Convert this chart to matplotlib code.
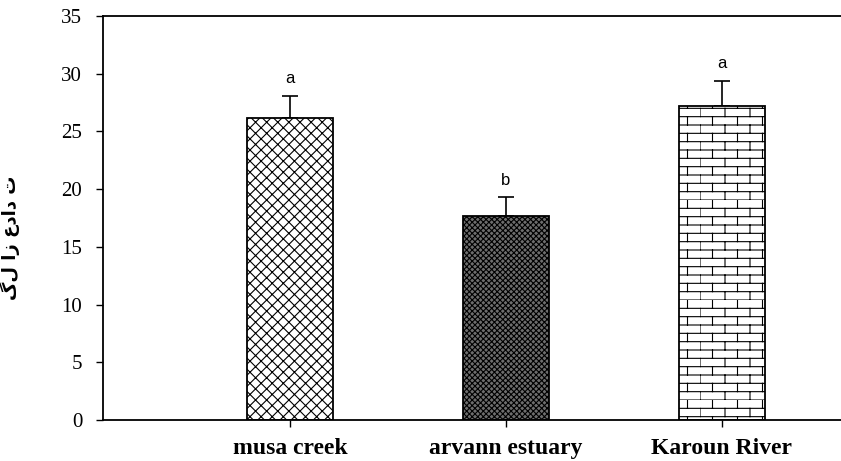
import numpy as np
import matplotlib
matplotlib.use("Agg")
import matplotlib.pyplot as plt
import matplotlib.hatch as mhatch
from matplotlib.path import Path

#################################################

sites = ["musa creek", "arvann estuary", "Karoun River"]
means = [26.2, 17.7, 27.2]
errs = [1.9, 1.6, 2.2]
letters = ["a", "b", "a"]
ylabel = "گل از عداد ت"

#################################################

# brick pattern, not one of the stock hatches
class BrickHatch(mhatch.HatchPatternBase):
  def __init__(self, hatch, density):
    self.rows = int(hatch.count('b') * density)
    self.cols = max(int(self.rows / 2.5), 1)
    if self.rows:
      self.num_vertices = self.rows * 2 + self.rows * self.cols * 2
    else:
      self.num_vertices = 0

  def set_vertices_and_codes(self, vertices, codes):
    n = self.rows
    m = self.cols
    i = 0
    for k in range(n):
      y0 = k / n
      vertices[i] = (0.0, y0)
      vertices[i + 1] = (1.0, y0)
      codes[i] = Path.MOVETO
      codes[i + 1] = Path.LINETO
      i += 2
      for j in range(m):
        x = (j + 0.5 * (k % 2)) / m
        vertices[i] = (x, y0)
        vertices[i + 1] = (x, y0 + 1.0 / n)
        codes[i] = Path.MOVETO
        codes[i + 1] = Path.LINETO
        i += 2

mhatch._hatch_types.append(BrickHatch)
mhatch._validate_hatch_pattern = lambda hatch: None

#################################################

fig = plt.figure(figsize=(8.41, 4.61), dpi=100)
ax = fig.add_axes([103/841, 1 - 420/461, 1 - 103/841, (420 - 16)/461])

x = np.arange(1, len(sites) + 1)
hatches = ['xxx', 'xxxxxx', 'bb']
faces = ['white', '#6e6e6e', 'white']

plt.rcParams['hatch.linewidth'] = 0.8
bars = ax.bar(x, means, width=0.394, color=faces, edgecolor='black',
              linewidth=1.3, zorder=2)
for b, h in zip(bars, hatches):
  b.set_hatch(h)

ax.errorbar(x, means, yerr=[np.zeros(len(errs)), errs], fmt='none',
            ecolor='black', elinewidth=1.2, capsize=5.5, capthick=1.2, zorder=1)

for xi, m, e, t in zip(x, means, errs, letters):
  ax.annotate(t, (xi, m + e), xytext=(0, 7), textcoords='offset points',
              ha='center', va='bottom', fontsize=12, family='Liberation Sans')

ax.set_xlim(0.134, 3.551)
ax.set_ylim(0, 35)
ax.set_yticks(np.arange(0, 36, 5))
ax.set_xticks(x)
ax.set_xticklabels(sites, family='Liberation Serif', fontweight='bold', fontsize=17)
for lab in ax.get_yticklabels():
  lab.set_family('Liberation Serif')
  lab.set_fontsize(15)

ax.tick_params(axis='y', direction='out', length=5, width=1, pad=10)
ax.tick_params(axis='x', direction='out', length=5, width=1, pad=8)
ax.spines['right'].set_visible(False)
for s in ['left', 'top', 'bottom']:
  ax.spines[s].set_linewidth(1.3)

ax.set_ylabel(ylabel, family='DejaVu Sans', fontweight='bold', fontsize=13)
ax.yaxis.set_label_coords(-0.1125, 0.45)

plt.savefig('out.png', dpi=100)
